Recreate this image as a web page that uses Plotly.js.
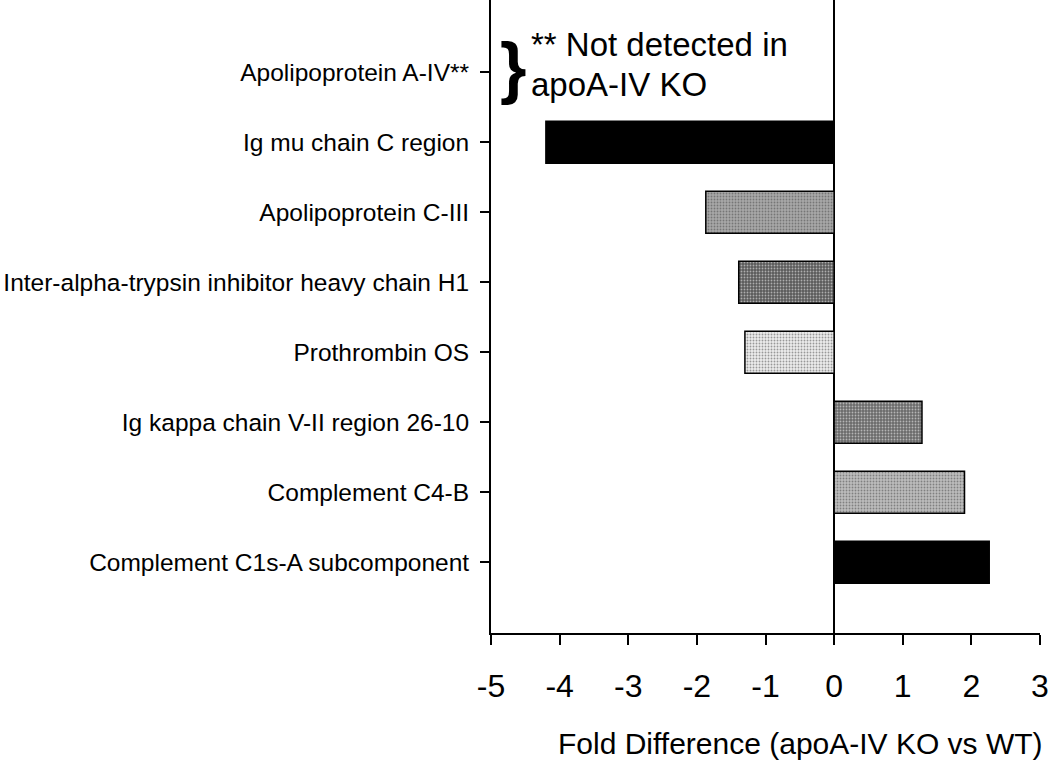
<!DOCTYPE html>
<html>
<head>
<meta charset="utf-8">
<script src="https://cdn.plot.ly/plotly-3.0.1.min.js"></script>
<style>html,body{margin:0;padding:0;background:#fff;}#chart{width:1050px;height:768px;}</style>
</head>
<body>
<div id="chart"></div>
<script>
// Categories listed bottom to top
const proteins = [
  "Complement C1s-A subcomponent",
  "Complement C4-B",
  "Ig kappa chain V-II region 26-10",
  "Prothrombin OS",
  "Inter-alpha-trypsin inhibitor heavy chain H1",
  "Apolipoprotein C-III",
  "Ig mu chain C region",
  "Apolipoprotein A-IV**"
];
const foldDifference = [2.26, 1.90, 1.28, -1.30, -1.39, -1.87, -4.20, null];
const barFill = ["#000000", "#bdbdbd", "#6a6a6a", "#ececec", "#5a5a5a", "#a8a8a8", "#000000", "#ffffff"];
const barDots = ["#000000", "#555555", "#1e1e1e", "#8c8c8c", "#151515", "#4a4a4a", "#000000", "#ffffff"];
const barPattern = ["", ".", ".", ".", ".", ".", "", ""];
const xTicks = [-5, -4, -3, -2, -1, 0, 1, 2, 3];
const xTitle = "Fold Difference (apoA-IV KO vs WT)";
const noteLines = ["** Not detected in", "apoA-IV KO"];

const font = "Liberation Sans, Arial, sans-serif";

const trace = {
  type: "bar",
  orientation: "h",
  y: proteins,
  x: foldDifference,
  width: 0.6,
  marker: {
    color: barFill,
    line: {color: "#000000", width: 1.5},
    pattern: {shape: barPattern, fgcolor: barDots, size: 3, solidity: 0.3, fillmode: "overlay"}
  },
  hoverinfo: "x+y"
};

const layout = {
  width: 1050,
  height: 768,
  margin: {l: 491, r: 10, t: 0, b: 135},
  paper_bgcolor: "#ffffff",
  plot_bgcolor: "#ffffff",
  showlegend: false,
  font: {family: font, color: "#000000"},
  xaxis: {
    range: [-5, 3],
    tickvals: xTicks,
    ticktext: xTicks.map(String),
    showgrid: false,
    zeroline: true,
    zerolinecolor: "#000000",
    zerolinewidth: 2,
    showline: true,
    linecolor: "#000000",
    linewidth: 2,
    ticks: "outside",
    ticklen: 10,
    tickwidth: 2,
    tickcolor: "#000000",
    ticklabelstandoff: 14,
    tickfont: {size: 32, family: font, color: "#000000"},
    fixedrange: true
  },
  yaxis: {
    type: "category",
    range: [-1.01, 8.03],
    showgrid: false,
    zeroline: false,
    showline: true,
    linecolor: "#000000",
    linewidth: 2,
    ticks: "outside",
    ticklen: 9,
    tickwidth: 2,
    tickcolor: "#000000",
    ticklabelstandoff: 6,
    tickfont: {size: 24.5, family: font, color: "#000000"},
    fixedrange: true
  },
  annotations: [
    {xref: "paper", yref: "paper", x: 1.01, y: -0.175, text: xTitle, showarrow: false,
     font: {size: 30, family: font, color: "#000000"}, xanchor: "right", yanchor: "middle"},
    {xref: "x", yref: "y", x: -4.68, y: 7.08, text: "<b>}</b>", showarrow: false,
     font: {size: 68, family: font, color: "#000000"}, xanchor: "center", yanchor: "middle"},
    {xref: "x", yref: "y", x: -4.45, y: 7.39, text: noteLines[0], showarrow: false,
     font: {size: 33, family: font, color: "#000000"}, xanchor: "left", yanchor: "middle"},
    {xref: "x", yref: "y", x: -4.45, y: 6.83, text: noteLines[1], showarrow: false,
     font: {size: 33, family: font, color: "#000000"}, xanchor: "left", yanchor: "middle"}
  ]
};

Plotly.newPlot("chart", [trace], layout, {displayModeBar: false, staticPlot: true});
</script>
</body>
</html>
